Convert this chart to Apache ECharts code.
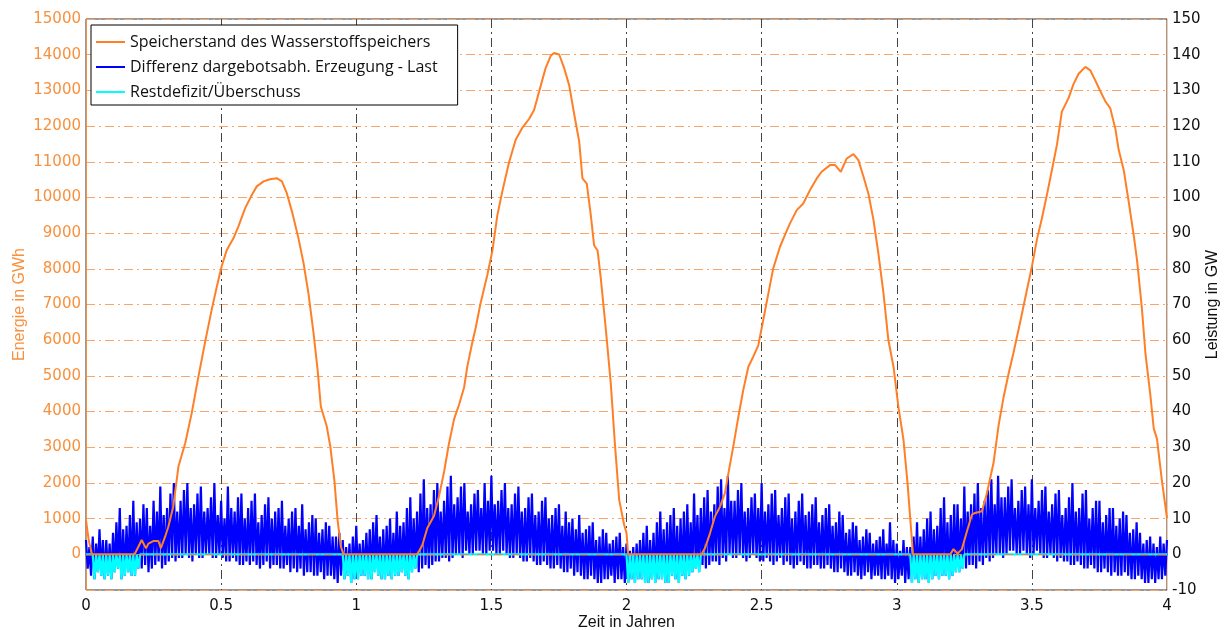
<!DOCTYPE html>
<html>
<head>
<meta charset="utf-8">
<script src="https://cdn.jsdelivr.net/npm/echarts@6/dist/echarts.min.js"></script>
<style>
  html, body { margin: 0; padding: 0; background: #fff; }
  #chart { width: 1226px; height: 630px; }
</style>
</head>
<body>
<div id="chart"></div>
<script>
// Speicherstand (GWh)
const storeTime = [
  0.000, 0.010, 0.022, 0.180, 0.206, 0.222, 0.231, 0.249, 0.268, 0.277, 0.293, 0.305, 0.323, 0.342, 0.367,
  0.391, 0.416, 0.441, 0.465, 0.484, 0.502, 0.521, 0.546, 0.564, 0.589, 0.614, 0.632, 0.657, 0.681, 0.706,
  0.725, 0.743, 0.762, 0.786, 0.805, 0.823, 0.842, 0.857, 0.869, 0.891, 0.904, 0.919, 0.931, 0.943, 0.953,
  1.226, 1.244, 1.263, 1.288, 1.306, 1.325, 1.343, 1.362, 1.380, 1.399, 1.411, 1.430, 1.442, 1.460, 1.485,
  1.504, 1.522, 1.541, 1.565, 1.590, 1.615, 1.640, 1.658, 1.683, 1.701, 1.720, 1.732, 1.751, 1.769, 1.788,
  1.806, 1.825, 1.837, 1.853, 1.868, 1.880, 1.893, 1.905, 1.923, 1.942, 1.957, 1.973, 1.991, 2.000, 2.006,
  2.278, 2.290, 2.309, 2.327, 2.346, 2.364, 2.377, 2.395, 2.414, 2.432, 2.451, 2.469, 2.488, 2.506, 2.525,
  2.543, 2.568, 2.586, 2.605, 2.630, 2.654, 2.679, 2.704, 2.722, 2.753, 2.772, 2.793, 2.815, 2.840, 2.858,
  2.877, 2.895, 2.914, 2.932, 2.951, 2.969, 2.988, 3.006, 3.025, 3.040, 3.056, 3.060,
  3.198, 3.210, 3.225, 3.241, 3.259, 3.278, 3.290, 3.315, 3.333, 3.358, 3.377, 3.395, 3.414, 3.432, 3.457,
  3.481, 3.500, 3.519, 3.537, 3.556, 3.574, 3.593, 3.611, 3.636, 3.654, 3.673, 3.698, 3.716, 3.735, 3.753,
  3.772, 3.790, 3.809, 3.821, 3.840, 3.858, 3.877, 3.889, 3.907, 3.920, 3.938, 3.951, 3.963, 3.981, 4.000
];
const storeLevel = [
  960, 400, 0, 0, 400, 170, 300, 370, 370, 170, 500, 780, 1340, 2460, 3110,
  3950, 4980, 5960, 6850, 7500, 8070, 8530, 8860, 9190, 9700, 10075, 10310, 10450, 10510, 10540,
  10450, 10120, 9610, 8860, 8160, 7320, 6200, 5170, 4140, 3580, 3020, 2080, 960, 215, 0,
  0, 246, 738, 1083, 1624, 2313, 3100, 3789, 4183, 4675, 5266, 5955, 6348, 7037, 7825,
  8514, 9498, 10187, 10974, 11614, 11959, 12205, 12451, 13140, 13632, 13976, 14045, 14006, 13632, 13140,
  12352, 11565, 10531, 10384, 9498, 8661, 8514, 7726, 6348, 4774, 3100, 1526, 837, 600, 0,
  0, 168, 588, 1055, 1335, 1709, 2269, 3016, 3856, 4603, 5257, 5537, 5864, 6564, 7311,
  8011, 8618, 8945, 9272, 9645, 9832, 10205, 10532, 10719, 10906, 10906, 10719, 11092, 11214, 11045,
  10579, 10112, 9365, 8431, 7311, 6004, 5257, 4136, 3203, 1989, 401, 0,
  0, 145, 20, 145, 627, 1110, 1158, 1207, 1689, 2558, 3620, 4392, 5068, 5647, 6515,
  7384, 8060, 8832, 9411, 10087, 10763, 11486, 12403, 12790, 13176, 13465, 13658, 13562, 13272, 12983,
  12693, 12500, 11921, 11342, 10763, 9894, 8929, 8253, 6902, 5647, 4488, 3523, 3234, 2075, 1014
];

// Differenz Erzeugung - Last (GW): Spitzen alle 0.0125 Jahre, Taeler jeweils dazwischen
const sampleStep = 0.0125;
const blueHigh = [
  4, 2, 5, 3, 7, 4, 4, 3, 6, 9, 13, 7, 8, 11, 15, 9, 10, 14, 13, 8,
  15, 12, 19, 11, 13, 17, 20, 12, 15, 18, 20, 13, 14, 17, 19, 12, 13, 16, 20, 11,
  15, 10, 19, 13, 12, 16, 17, 10, 13, 15, 17, 9, 11, 14, 16, 10, 12, 13, 15, 8,
  10, 12, 13, 8, 14, 7, 9, 11, 10, 6, 7, 9, 8, 5, 5, 6, 4, 2, 3, 5,
  8, 3, 4, 6, 7, 9, 11, 5, 7, 8, 10, 6, 12, 8, 9, 13, 16, 10, 12, 17,
  21, 13, 14, 18, 20, 12, 15, 19, 22, 14, 16, 19, 20, 12, 14, 17, 18, 13, 20, 15,
  22, 14, 15, 18, 20, 13, 14, 17, 19, 12, 13, 16, 17, 11, 12, 15, 16, 10, 11, 13,
  14, 8, 12, 9, 10, 7, 11, 6, 7, 8, 9, 4, 5, 7, 6, 3, 4, 5, 6, 2,
  3, 1, 2, 3, 4, 6, 8, 4, 6, 9, 12, 7, 9, 11, 13, 8, 10, 12, 14, 9,
  17, 11, 13, 16, 18, 12, 14, 19, 21, 13, 22, 15, 15, 18, 20, 12, 13, 16, 17, 13,
  20, 12, 14, 17, 18, 11, 13, 16, 17, 10, 12, 15, 17, 11, 12, 14, 16, 9, 11, 13,
  14, 8, 9, 12, 11, 6, 7, 9, 8, 4, 5, 7, 6, 3, 4, 5, 7, 3, 9, 4,
  3, 1, 4, 2, 2, 5, 9, 5, 7, 10, 12, 7, 8, 13, 16, 9, 11, 14, 14, 10,
  19, 12, 14, 17, 20, 13, 15, 18, 21, 14, 22, 16, 16, 19, 21, 13, 15, 18, 19, 14,
  21, 13, 15, 18, 19, 12, 14, 17, 18, 11, 13, 16, 20, 12, 13, 17, 18, 10, 13, 15,
  15, 9, 11, 13, 13, 8, 10, 12, 11, 6, 7, 9, 6, 3, 4, 5, 3, 2, 5, 3,
  4
];
const blueLow = [
  -4, -6, -7, -5, -6, -7, -6, -7, -5, -4, -7, -6, -5, -6, -6, -4, -4, -3, -5, -4,
  -3, -2, -4, -3, -2, -1, -2, -1, -1, 0, -1, -2, 0, -1, -1, 0, 0, -1, -1, 0,
  -1, -2, -2, -1, -2, -3, -3, -2, -3, -2, -3, -4, -3, -2, -4, -3, -3, -4, -4, -3,
  -5, -4, -5, -4, -6, -5, -5, -6, -6, -5, -7, -6, -6, -7, -8, -6, -7, -6, -8, -7,
  -7, -6, -6, -7, -7, -5, -6, -7, -7, -6, -7, -6, -6, -5, -6, -7, -5, -4, -5, -4,
  -3, -4, -3, -2, -2, -1, -1, -2, -1, 0, 0, -1, 1, 0, 0, 1, 1, 0, 0, 1,
  1, 0, 0, 1, 0, -1, -1, 0, -1, -2, -2, -1, -2, -3, -3, -2, -3, -4, -4, -3,
  -4, -5, -5, -4, -6, -5, -6, -7, -7, -6, -7, -8, -8, -7, -7, -6, -8, -7, -7, -8,
  -8, -7, -8, -7, -7, -8, -8, -7, -8, -7, -7, -8, -8, -6, -7, -8, -6, -7, -6, -5,
  -4, -5, -3, -4, -3, -2, -2, -3, -1, -2, 0, -1, -1, 0, -1, -2, -1, 0, -1, -2,
  -2, -1, -2, -3, -2, -1, -3, -2, -3, -4, -3, -2, -3, -4, -4, -3, -3, -4, -4, -3,
  -4, -5, -5, -4, -5, -6, -6, -5, -6, -7, -6, -5, -7, -6, -6, -7, -7, -6, -7, -8,
  -7, -6, -8, -7, -8, -7, -8, -7, -7, -8, -7, -6, -7, -6, -6, -7, -6, -5, -5, -4,
  -4, -3, -3, -4, -2, -3, -1, -2, -1, 0, 0, -1, 0, 1, 1, 0, 0, 1, 0, -1,
  0, 1, 0, -1, -1, 0, -1, -2, -1, -2, -2, -3, -3, -2, -3, -4, -4, -3, -4, -5,
  -5, -4, -5, -6, -5, -6, -6, -5, -6, -7, -7, -6, -7, -8, -8, -7, -8, -7, -7, -6
];
// Restdefizit (GW): nur wo der Speicher leer ist, sonst 0
const cyanLow = [
  0, 0, -7, -5, -6, -7, -6, -7, -5, -4, -7, -6, -5, -6, -6, -4, 0, 0, 0, 0,
  0, 0, 0, 0, 0, 0, 0, 0, 0, 0, 0, 0, 0, 0, 0, 0, 0, 0, 0, 0,
  0, 0, 0, 0, 0, 0, 0, 0, 0, 0, 0, 0, 0, 0, 0, 0, 0, 0, 0, 0,
  0, 0, 0, 0, 0, 0, 0, 0, 0, 0, 0, 0, 0, 0, 0, 0, -7, -6, -8, -7,
  -7, -6, -6, -7, -7, -5, -6, -7, -7, -6, -7, -6, -6, -5, -6, -7, -5, -4, 0, 0,
  0, 0, 0, 0, 0, 0, 0, 0, 0, 0, 0, 0, 0, 0, 0, 0, 0, 0, 0, 0,
  0, 0, 0, 0, 0, 0, 0, 0, 0, 0, 0, 0, 0, 0, 0, 0, 0, 0, 0, 0,
  0, 0, 0, 0, 0, 0, 0, 0, 0, 0, 0, 0, 0, 0, 0, 0, 0, 0, 0, 0,
  -8, -7, -8, -7, -7, -8, -8, -7, -8, -7, -7, -8, -8, -6, -7, -8, -6, -7, -6, -5,
  -4, -5, 0, 0, 0, 0, 0, 0, 0, 0, 0, 0, 0, 0, 0, 0, 0, 0, 0, 0,
  0, 0, 0, 0, 0, 0, 0, 0, 0, 0, 0, 0, 0, 0, 0, 0, 0, 0, 0, 0,
  0, 0, 0, 0, 0, 0, 0, 0, 0, 0, 0, 0, 0, 0, 0, 0, 0, 0, 0, 0,
  0, 0, 0, 0, -8, -7, -8, -7, -7, -8, -7, -6, -7, -6, -6, -7, -6, -5, -5, -4,
  0, 0, 0, 0, 0, 0, 0, 0, 0, 0, 0, 0, 0, 0, 0, 0, 0, 0, 0, 0,
  0, 0, 0, 0, 0, 0, 0, 0, 0, 0, 0, 0, 0, 0, 0, 0, 0, 0, 0, 0,
  0, 0, 0, 0, 0, 0, 0, 0, 0, 0, 0, 0, 0, 0, 0, 0, 0, 0, 0, 0
];

const storeData = storeTime.map((t, i) => [t, storeLevel[i]]);
const blueData = [];
const cyanData = [];
blueHigh.forEach((v, i) => {
    const t = i * sampleStep;
    blueData.push([t, v]);
    cyanData.push([t, 0]);
    if (i < blueLow.length) {
        blueData.push([t + sampleStep / 2, blueLow[i]]);
        cyanData.push([t + sampleStep / 2, cyanLow[i]]);
    }
});

const orange = '#ff7f27';
const gridOrange = '#f9a468';
const labelFont = 'DejaVu Sans';
const nameFont = 'Liberation Sans';

const chart = echarts.init(document.getElementById('chart'));
chart.setOption({
    animation: false,
    grid: {
        left: 86, right: 59, top: 19, bottom: 40,
        outerBoundsMode: 'none',
        show: true, borderColor: '#333', borderWidth: 1
    },
    legend: {
        left: 91, top: 25,
        orient: 'vertical',
        icon: 'rect',
        itemWidth: 29, itemHeight: 2, itemGap: 9,
        backgroundColor: '#fff',
        borderColor: '#000', borderWidth: 1,
        padding: [9, 20, 5, 5],
        textStyle: { fontFamily: 'Open Sans', fontSize: 16, color: '#111' },
        data: ['Speicherstand des Wasserstoffspeichers', 'Differenz dargebotsabh. Erzeugung - Last', 'Restdefizit/Überschuss']
    },
    xAxis: {
        type: 'value', min: 0, max: 4, interval: 0.5,
        name: 'Zeit in Jahren', nameLocation: 'middle', nameGap: 25,
        nameMoveOverlap: false,
        nameTextStyle: { fontFamily: nameFont, fontSize: 16, color: '#111' },
        axisLine: { lineStyle: { color: '#777' } },
        axisTick: { show: false },
        axisLabel: { fontFamily: labelFont, fontSize: 15, color: '#111', margin: 9 },
        splitLine: { lineStyle: { color: '#444', type: [9, 4, 2, 4], width: 1 } }
    },
    yAxis: [
        {
            type: 'value', min: -1000, max: 15000, interval: 1000,
            name: 'Energie in GWh', nameLocation: 'middle', nameGap: 58,
            nameMoveOverlap: false,
            nameTextStyle: { fontFamily: nameFont, fontSize: 16, color: '#f7913d' },
            axisLine: { show: true, lineStyle: { color: '#f7913d' } },
            axisTick: { show: false },
            axisLabel: {
                fontFamily: labelFont, fontSize: 15, color: '#f7913d', margin: 5,
                formatter: v => (v < 0 ? '' : String(v))
            },
            splitLine: { lineStyle: { color: gridOrange, type: [9, 4, 2, 4], width: 1 } }
        },
        {
            type: 'value', min: -10, max: 150, interval: 10,
            name: 'Leistung in GW', nameLocation: 'middle', nameGap: 38,
            nameMoveOverlap: false,
            nameTextStyle: { fontFamily: nameFont, fontSize: 16, color: '#111' },
            axisLine: { show: true, lineStyle: { color: '#fcc9a0' } },
            axisTick: { show: false },
            axisLabel: { fontFamily: labelFont, fontSize: 15, color: '#111', margin: 5 },
            splitLine: { show: false }
        }
    ],
    series: [
        {
            name: 'Differenz dargebotsabh. Erzeugung - Last',
            type: 'line', yAxisIndex: 1,
            data: blueData,
            symbol: 'none',
            lineStyle: { color: '#0000ff', width: 2.2 },
            itemStyle: { color: '#0000ff' },
            z: 2
        },
        {
            name: 'Restdefizit/Überschuss',
            type: 'line', yAxisIndex: 1,
            data: cyanData,
            symbol: 'none',
            lineStyle: { color: '#00ffff', width: 2.2 },
            itemStyle: { color: '#00ffff' },
            z: 3
        },
        {
            name: 'Speicherstand des Wasserstoffspeichers',
            type: 'line', yAxisIndex: 0,
            data: storeData,
            symbol: 'none',
            lineStyle: { color: orange, width: 2 },
            itemStyle: { color: orange },
            markLine: {
                silent: true, symbol: 'none', label: { show: false },
                lineStyle: { color: orange, type: [9, 3, 2, 3], width: 1 },
                data: [{ yAxis: 0 }]
            },
            z: 4
        }
    ]
});
</script>
</body>
</html>
